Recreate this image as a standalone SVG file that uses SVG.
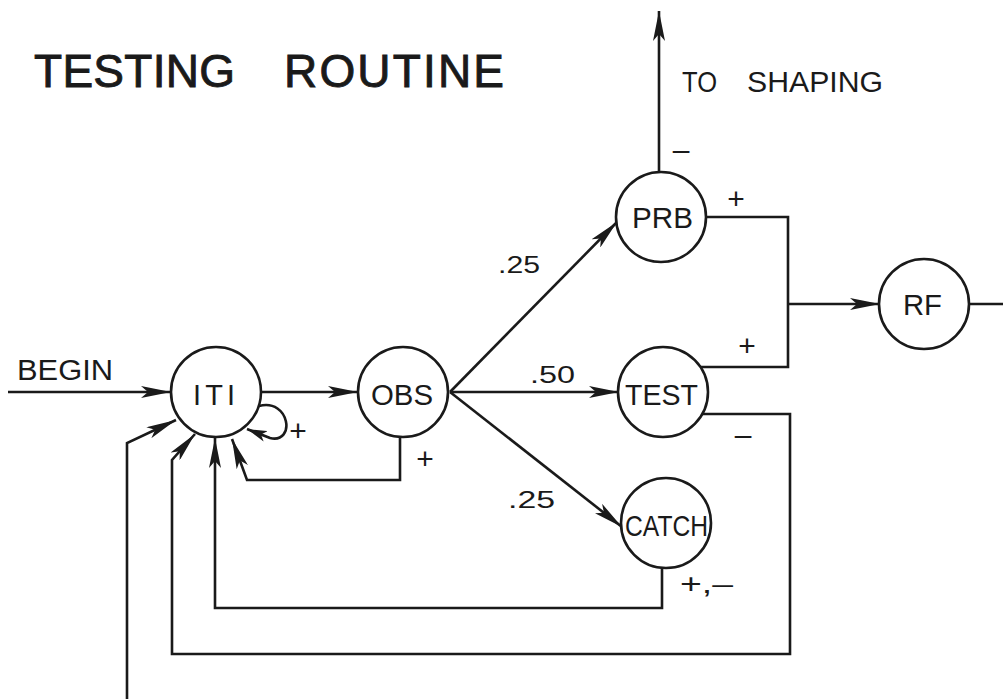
<svg xmlns="http://www.w3.org/2000/svg" width="1003" height="699" viewBox="0 0 1003 699">
<defs>
<style>
.c{fill:#fff;stroke:#1a1a1a;stroke-width:2.6}
.e{fill:none;stroke:#1a1a1a;stroke-width:2.6;stroke-linejoin:miter}
.t{font-family:"Liberation Sans",Arial,sans-serif;fill:#1a1a1a}
.n{font-size:29px}
.s{font-size:30px;text-anchor:middle}
.p{font-size:24px}
.h{font-size:46px;stroke:#1a1a1a;stroke-width:0.9}
</style>
<marker id="a" markerUnits="userSpaceOnUse" markerWidth="32" markerHeight="12" refX="30" refY="6" orient="auto">
<path d="M0,0 L30,6 L0,12 L7,6 z" fill="#1a1a1a"/>
</marker>
<marker id="as" markerUnits="userSpaceOnUse" markerWidth="22" markerHeight="12" refX="20" refY="6" orient="auto">
<path d="M0,0.5 L20,6 L0,11.5 L5,6 z" fill="#1a1a1a"/>
</marker>
</defs>
<rect width="1003" height="699" fill="#fff"/>
<text class="t h" x="34" y="87" textLength="201" lengthAdjust="spacing">TESTING</text>
<text class="t h" x="284" y="87" textLength="220" lengthAdjust="spacing">ROUTINE</text>

<g id="connectors">
<path class="e" d="M8,392 H171" marker-end="url(#a)"/>
<path class="e" d="M262,392 H358" marker-end="url(#a)"/>
<path class="e" d="M259,406 C290,398 296,444 270,438 L247,429" marker-end="url(#as)"/>
<path class="e" d="M400,437 V480 H247 L232,439" marker-end="url(#a)"/>
<path class="e" d="M662,568 V608 H215 V438" marker-end="url(#a)"/>
<path class="e" d="M702,414 H790 V654 H172 V460 L195,434" marker-end="url(#a)"/>
<path class="e" d="M127,699 V443 L176,420" marker-end="url(#a)"/>
<path class="e" d="M450,392 L617,222" marker-end="url(#a)"/>
<path class="e" d="M450,392 H619" marker-end="url(#a)"/>
<path class="e" d="M450,392 L622,527" marker-end="url(#a)"/>
<path class="e" d="M659,172 V11" marker-end="url(#a)"/>
<path class="e" d="M706,217 H788 V367 H700"/>
<path class="e" d="M788,304 H880" marker-end="url(#a)"/>
<path class="e" d="M969,304 H1003"/>
<text class="t" x="17" y="380" font-size="30" textLength="96" lengthAdjust="spacingAndGlyphs">BEGIN</text>
<text class="t" x="682" y="92" font-size="30" textLength="35" lengthAdjust="spacingAndGlyphs">TO</text>
<text class="t" x="747" y="92" font-size="30" textLength="136" lengthAdjust="spacingAndGlyphs">SHAPING</text>
<text class="t p" x="498" y="273" textLength="42" lengthAdjust="spacingAndGlyphs">.25</text>
<text class="t p" x="530" y="383" textLength="45" lengthAdjust="spacingAndGlyphs">.50</text>
<text class="t p" x="508" y="508" textLength="47" lengthAdjust="spacingAndGlyphs">.25</text>
<text class="t s" x="298" y="441">+</text>
<text class="t s" x="425" y="469">+</text>
<text class="t s" x="736" y="209">+</text>
<text class="t s" x="747" y="356">+</text>
<text class="t s" x="681" y="160">–</text>
<text class="t s" x="743" y="445">–</text>
<text class="t" x="680" y="593" font-size="28" textLength="53" lengthAdjust="spacingAndGlyphs">+,–</text>
</g>

<g id="ITI"><circle class="c" cx="216" cy="392" r="45"/><text class="t n" x="193" y="405" textLength="42" lengthAdjust="spacing">ITI</text></g>
<g id="OBS"><circle class="c" cx="403" cy="392" r="45"/><text class="t n" x="371" y="405" textLength="62" lengthAdjust="spacingAndGlyphs">OBS</text></g>
<g id="PRB"><circle class="c" cx="661" cy="217" r="45"/><text class="t n" x="632" y="228" textLength="61" lengthAdjust="spacingAndGlyphs">PRB</text></g>
<g id="TEST"><circle class="c" cx="663" cy="392" r="45"/><text class="t n" x="625" y="405" textLength="73" lengthAdjust="spacingAndGlyphs">TEST</text></g>
<g id="CATCH"><circle class="c" cx="666" cy="523" r="45"/><text class="t n" x="625" y="536" textLength="83" lengthAdjust="spacingAndGlyphs">CATCH</text></g>
<g id="RF"><circle class="c" cx="924" cy="304" r="45"/><text class="t n" x="903" y="315" textLength="39" lengthAdjust="spacingAndGlyphs">RF</text></g>
</svg>
